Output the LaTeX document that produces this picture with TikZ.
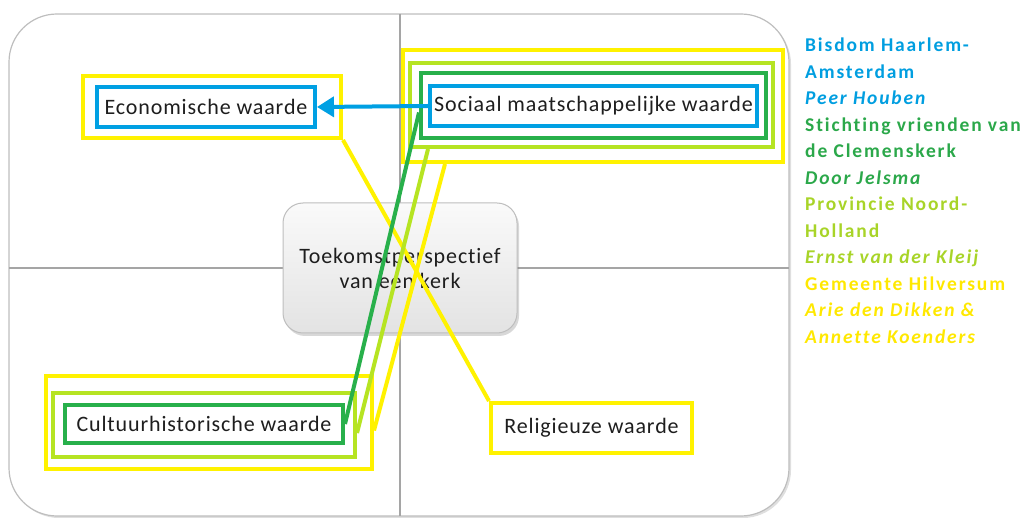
\documentclass[tikz,border=0pt]{standalone}
\usepackage{fontspec}
\setmainfont{Carlito}
\newfontfamily\boxfont[LetterSpace=4,Ligatures=NoCommon]{Carlito}
\newfontfamily\sidefont[LetterSpace=9.5,Ligatures=NoCommon]{Carlito}
\usetikzlibrary{arrows.meta,shadows,calc}
\definecolor{vblue}{RGB}{0,160,227}
\definecolor{vgreen}{RGB}{40,176,75}
\definecolor{vlime}{RGB}{182,228,34}
\definecolor{vyellow}{RGB}{255,242,0}
\definecolor{tblue}{RGB}{0,158,224}
\definecolor{tgreen}{RGB}{43,168,74}
\definecolor{tlime}{RGB}{168,212,40}
\definecolor{tyellow}{RGB}{255,232,0}
\definecolor{framegray}{RGB}{190,190,190}
\definecolor{divgray}{RGB}{165,165,165}
\definecolor{inktext}{RGB}{30,30,30}
\tikzset{
  frame/.style={draw=framegray, line width=1.2pt, fill=white, rounded corners=48pt,
    drop shadow={shadow xshift=2pt, shadow yshift=-2pt, opacity=0.25}},
  divider/.style={draw=divgray, line width=1.3pt},
  hub/.style={draw=framegray, line width=1pt, rounded corners=20pt, top color=gray!4,
    bottom color=gray!22, minimum width=234pt, minimum height=130pt, inner sep=0pt,
    align=center, font=\boxfont\fontsize{22}{25}\selectfont, text=inktext,
    drop shadow={shadow xshift=2pt, shadow yshift=-3pt, opacity=0.3}},
  valbox/.style={draw, line width=4pt, inner sep=0pt, text=inktext,
    font=\boxfont\fontsize{22}{26}\selectfont},
  link/.style={line width=4pt},
  side/.style={anchor=base west, inner sep=0pt, font=\sidefont\fontsize{19.5}{22}\selectfont\bfseries},
  sideit/.style={side, font=\sidefont\fontsize{19.5}{22}\selectfont\bfseries\itshape}
}
\begin{document}
\begin{tikzpicture}[x=1pt,y=-1pt]
\useasboundingbox (0,0) rectangle (1022,518);

% background frame with the two axes
\path[frame] (9,14) rectangle (789,516);
\draw[divider] (9,268) -- (789,268);
\draw[divider] (400,14) -- (400,516);

% central theme
\node[hub] (hub) at (400,268) {Toekomstperspectief\\van een kerk};

% value boxes
\node[valbox, draw=vyellow, minimum width=258pt, minimum height=62pt] (ecoY) at (212,107) {};
\node[valbox, draw=vblue, minimum width=218pt, minimum height=40pt] (ecoB) at (206,107) {Economische waarde};

\node[valbox, draw=vyellow, minimum width=380pt, minimum height=112pt] (socY) at (593,106) {};
\node[valbox, draw=vlime, minimum width=363pt, minimum height=84pt] (socL) at (591.5,105) {};
\node[valbox, draw=vgreen, minimum width=345pt, minimum height=65pt] (socG) at (593.5,105.5) {};
\node[valbox, draw=vblue, minimum width=327pt, minimum height=40pt] (socB) at (593.5,106) {Sociaal maatschappelijke waarde};

\node[valbox, draw=vyellow, minimum width=326pt, minimum height=93pt] (culY) at (209,422.5) {};
\node[valbox, draw=vlime, minimum width=302pt, minimum height=64pt] (culL) at (204,425) {};
\node[valbox, draw=vgreen, minimum width=278pt, minimum height=38pt] (culG) at (204,424) {Cultuurhistorische waarde};

\node[valbox, draw=vyellow, minimum width=201pt, minimum height=50pt] (relY) at (591.5,428) {Religieuze waarde};

% connectors
\draw[link, vblue, -{Triangle[length=17pt,width=20pt]}] (socB.west) -- (ecoB.east);
\draw[link, vyellow] (ecoY.south east) -- (relY.north west);
\draw[link, vgreen] ([yshift=-7pt]socG.west) -- (culG.east);
\draw[link, vlime] ([xshift=20pt]socL.south west) -- ([yshift=-8pt]culL.east);
\draw[link, vyellow] ([xshift=44pt]socY.south west) -- ([yshift=-8pt]culY.east);

% legend of parties
\node[side, text=tblue] (r1) at (805,52) {Bisdom Haarlem-};
\node[side, text=tblue] (r2) at (805,78.5) {Amsterdam};
\node[sideit, text=tblue] (r3) at (805,105) {Peer Houben};
\node[side, text=tgreen] (r4) at (805,131.5) {Stichting vrienden van};
\node[side, text=tgreen] (r5) at (805,158) {de Clemenskerk};
\node[sideit, text=tgreen] (r6) at (805,184.5) {Door Jelsma};
\node[side, text=tlime] (r7) at (805,211) {Provincie Noord-};
\node[side, text=tlime] (r8) at (805,237.5) {Holland};
\node[sideit, text=tlime] (r9) at (805,264) {Ernst van der Kleij};
\node[side, text=tyellow] (r10) at (805,290.5) {Gemeente Hilversum};
\node[sideit, text=tyellow] (r11) at (805,317) {Arie den Dikken \&};
\node[sideit, text=tyellow] (r12) at (805,343.5) {Annette Koenders};
\end{tikzpicture}
\end{document}
